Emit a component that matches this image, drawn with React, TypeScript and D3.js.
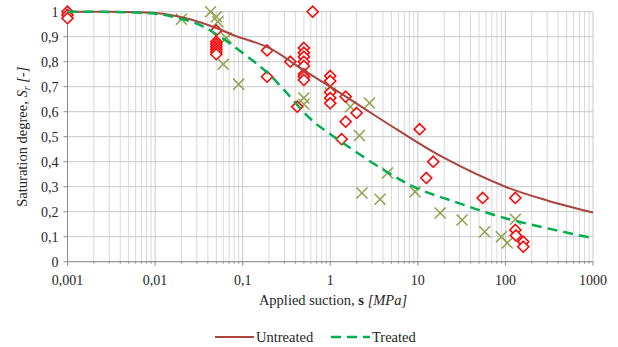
import React from "react";
import * as d3 from "d3";

const untreatedS = [
  0.001, 0.001, 0.001,
  0.05, 0.05, 0.05, 0.05, 0.05, 0.05, 0.05,
  0.19, 0.19, 0.35, 0.42,
  0.5, 0.5, 0.5, 0.5, 0.5, 0.5, 0.5, 0.5,
  0.63,
  1, 1, 1, 1, 1,
  1.35, 1.5, 1.5, 2.0,
  10.5, 12.5, 15, 55,
  130, 130, 132, 160, 160,
];
const untreatedSr = [
  1.0, 0.987, 0.974,
  0.925, 0.88, 0.87, 0.86, 0.85, 0.84, 0.83,
  0.845, 0.74, 0.8, 0.62,
  0.855, 0.836, 0.82, 0.8, 0.783, 0.75, 0.74, 0.727,
  1.0,
  0.743, 0.723, 0.678, 0.655, 0.634,
  0.49, 0.66, 0.56, 0.595,
  0.53, 0.335, 0.4, 0.255,
  0.255, 0.127, 0.105, 0.08, 0.06,
];

const treatedS = [
  0.02, 0.043, 0.05, 0.052, 0.065, 0.06, 0.09,
  0.5, 0.5, 1.0, 1.7, 2.8, 2.15, 4.5, 2.3, 3.7, 9.3,
  18, 32, 58, 90, 105, 130,
];
const treatedSr = [
  0.97, 1.0, 0.98, 0.96, 0.895, 0.79, 0.71,
  0.655, 0.63, 0.675, 0.62, 0.635, 0.505, 0.355, 0.275, 0.25, 0.28,
  0.195, 0.167, 0.12, 0.1, 0.075, 0.17,
];

// fitted curves
const untreatedFitS = [0.001, 0.003, 0.006, 0.01, 0.015, 0.025, 0.05, 0.08, 0.2, 0.5, 1, 2.5, 6, 20, 100, 300, 1000];
const untreatedFitSr = [1, 0.9995, 0.998, 0.995, 0.987, 0.97, 0.935, 0.905, 0.855, 0.765, 0.7, 0.61, 0.525, 0.415, 0.3, 0.245, 0.197];
const treatedFitS = [0.001, 0.003, 0.006, 0.01, 0.015, 0.03, 0.05, 0.12, 0.2, 0.3, 0.6, 1.1, 4.4, 10, 23, 100, 1000];
const treatedFitSr = [1, 0.999, 0.997, 0.992, 0.982, 0.952, 0.91, 0.814, 0.75, 0.685, 0.57, 0.5, 0.36, 0.292, 0.247, 0.174, 0.094];

const xTicks = [0.001, 0.01, 0.1, 1, 10, 100, 1000];
const yTicks = [0, 0.1, 0.2, 0.3, 0.4, 0.5, 0.6, 0.7, 0.8, 0.9, 1];

const width = 618;
const height = 347;
const left = 67.5;
const right = 593;
const top = 11.7;
const bottom = 261.7;
const font = "'Liberation Serif', serif";

const fmt = (v: number) => String(+v.toFixed(3)).replace(".", ",");

export default function App() {
  const x = d3.scaleLog().domain([0.001, 1000]).range([left, right]);
  const y = d3.scaleLinear().domain([0, 1]).range([bottom, top]);

  const minor: number[] = [];
  xTicks.slice(0, -1).forEach((d) => {
    for (let k = 2; k <= 9; k++) minor.push(d * k);
  });

  const line = d3
    .line<[number, number]>()
    .x((d) => x(d[0]))
    .y((d) => y(d[1]))
    .curve(d3.curveCatmullRom.alpha(0.5));

  const untreatedPath = line(untreatedFitS.map((s, i) => [s, untreatedFitSr[i]]));
  const treatedPath = line(treatedFitS.map((s, i) => [s, treatedFitSr[i]]));

  const dia = 5.5;
  const cr = 5.5;

  return (
    <svg width={width} height={height} style={{ position: "absolute", left: 0, top: 0, background: "#fff" }} fontFamily={font}>
      {/* grid */}
      <g stroke="#d9d9d9" strokeWidth={1}>
        {minor.map((d, i) => (
          <line key={"m" + i} x1={x(d)} x2={x(d)} y1={top} y2={bottom} />
        ))}
      </g>
      <g stroke="#c8c8c8" strokeWidth={1}>
        {xTicks.map((d, i) => (
          <line key={"x" + i} x1={x(d)} x2={x(d)} y1={top} y2={bottom} />
        ))}
        {yTicks.map((d, i) => (
          <line key={"y" + i} x1={left} x2={right} y1={y(d)} y2={y(d)} />
        ))}
      </g>

      {/* axes */}
      <g stroke="#8c8c8c" strokeWidth={1}>
        <line x1={left} x2={left} y1={top} y2={bottom} />
        <line x1={left} x2={right} y1={bottom} y2={bottom} />
        {yTicks.map((d, i) => (
          <line key={"yt" + i} x1={left - 4} x2={left} y1={y(d)} y2={y(d)} />
        ))}
        {xTicks.map((d, i) => (
          <line key={"xt" + i} x1={x(d)} x2={x(d)} y1={bottom} y2={bottom + 4} />
        ))}
        {minor.map((d, i) => (
          <line key={"xm" + i} x1={x(d)} x2={x(d)} y1={bottom} y2={bottom + 2} />
        ))}
      </g>

      {/* tick labels */}
      <g fontSize={14} fill="#262626">
        {yTicks.map((d, i) => (
          <text key={"yl" + i} x={left - 9} y={y(d)} dy="0.35em" textAnchor="end">
            {fmt(d)}
          </text>
        ))}
        {xTicks.map((d, i) => (
          <text key={"xl" + i} x={x(d)} y={280} dy="0.35em" textAnchor="middle">
            {fmt(d)}
          </text>
        ))}
      </g>

      {/* axis titles */}
      <text x={333} y={300} dy="0.35em" textAnchor="middle" fontSize={14.5} fill="#262626">
        Applied suction, <tspan fontWeight="bold">s</tspan>
        <tspan fontStyle="italic"> [MPa]</tspan>
      </text>
      <text
        transform={`translate(22,${(top + bottom) / 2}) rotate(-90)`}
        textAnchor="middle"
        dy="0.35em"
        fontSize={14.5}
        fill="#262626"
      >
        Saturation degree, <tspan fontStyle="italic">S</tspan>
        <tspan fontStyle="italic" fontSize={10} dy="3">r</tspan>
        <tspan fontStyle="italic" dy="-3"> [-]</tspan>
      </text>

      {/* treated points */}
      <g stroke="#8fa34f" strokeWidth={1.6}>
        {treatedS.map((s, i) => {
          const cx = x(s);
          const cy = y(treatedSr[i]);
          return (
            <g key={"t" + i}>
              <line x1={cx - cr} y1={cy - cr} x2={cx + cr} y2={cy + cr} />
              <line x1={cx - cr} y1={cy + cr} x2={cx + cr} y2={cy - cr} />
            </g>
          );
        })}
      </g>

      {/* untreated points */}
      <g stroke="#ff0000" strokeWidth={1.6} fill="#fff">
        {untreatedS.map((s, i) => {
          const cx = x(s);
          const cy = y(untreatedSr[i]);
          return (
            <path
              key={"u" + i}
              d={`M${cx},${cy - dia}L${cx + dia},${cy}L${cx},${cy + dia}L${cx - dia},${cy}Z`}
            />
          );
        })}
      </g>

      {/* fitted curves */}
      <path d={untreatedPath ?? ""} fill="none" stroke="#a9443f" strokeWidth={2} />
      <path d={treatedPath ?? ""} fill="none" stroke="#00b050" strokeWidth={2.5} strokeDasharray="10,6" />

      {/* legend */}
      <g fontSize={14.5} fill="#262626">
        <line x1={215} x2={254} y1={337} y2={337} stroke="#a9443f" strokeWidth={2} />
        <text x={256} y={337} dy="0.35em">Untreated</text>
        <line x1={331} x2={370} y1={337} y2={337} stroke="#00b050" strokeWidth={2.5} strokeDasharray="10,6" />
        <text x={372} y={337} dy="0.35em">Treated</text>
      </g>
    </svg>
  );
}
